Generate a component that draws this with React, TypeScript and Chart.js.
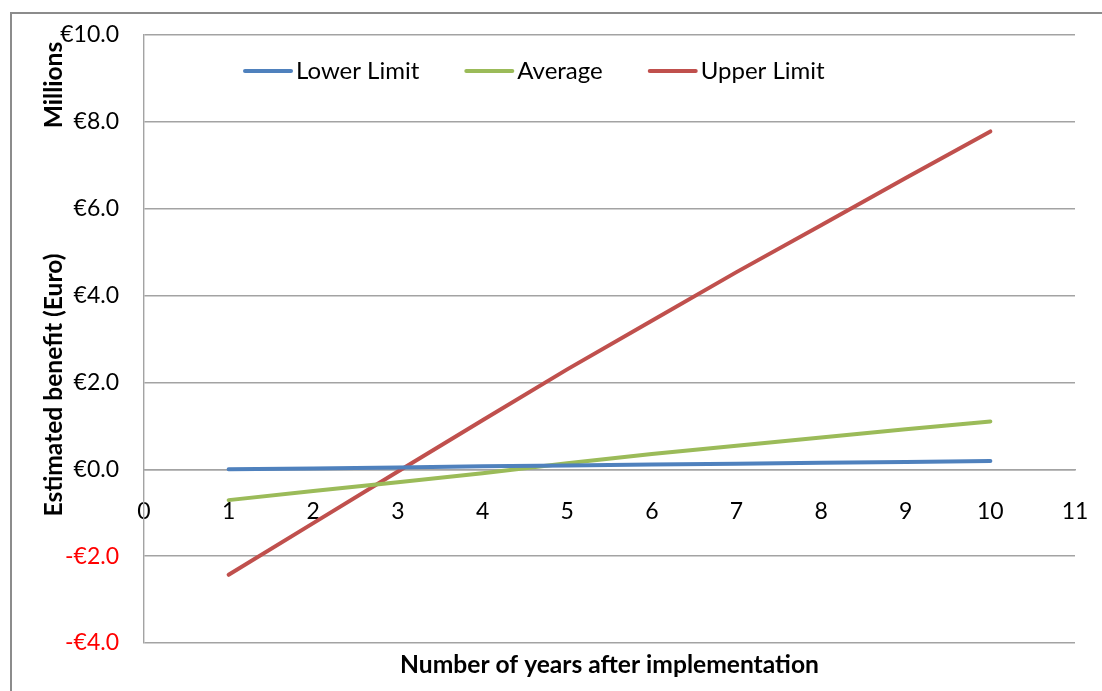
import React, { useEffect, useRef } from "react";
import { Chart, registerables } from "chart.js";

Chart.register(...registerables);

// Years after implementation and estimated benefit in millions of euro
const years = [1, 2, 3, 4, 5, 6, 7, 8, 9, 10];
const lowerLimit = [0.0, 0.02, 0.04, 0.07, 0.09, 0.11, 0.13, 0.15, 0.17, 0.19];
const average = [-0.71, -0.5, -0.3, -0.09, 0.14, 0.35, 0.54, 0.73, 0.92, 1.1];
const upperLimit = [-2.43, -1.24, -0.05, 1.13, 2.3, 3.42, 4.54, 5.62, 6.71, 7.78];

const seriesNames = ["Lower Limit", "Average", "Upper Limit"];
const seriesColors = ["#4F81BD", "#9BBB59", "#C0504D"];

const xTitle = "Number of years after implementation";
const yTitle = "Estimated benefit (Euro)";
const unitLabel = "Millions";

const FONT = "Lato, 'Open Sans', sans-serif";
const GRID = "#A3A3A3";

const toPoints = (vals: number[]) => years.map((x, i) => ({ x, y: vals[i] }));

// Frame, axis titles, unit label and the in-plot legend
const decorations = {
  id: "decorations",
  beforeDraw(chart: any) {
    const { ctx, width, height } = chart;
    ctx.save();
    ctx.fillStyle = "#ffffff";
    ctx.fillRect(0, 0, width, height);
    ctx.strokeStyle = "#8C8C8C";
    ctx.lineWidth = 2;
    ctx.strokeRect(11, 13, width + 40, height + 40);
    ctx.restore();
  },
  afterDraw(chart: any) {
    const { ctx, chartArea } = chart;
    ctx.save();
    ctx.fillStyle = "#000000";
    ctx.textAlign = "center";
    ctx.textBaseline = "middle";

    // x axis title
    ctx.font = `bold 24.6px ${FONT}`;
    ctx.fillText(xTitle, (chartArea.left + chartArea.right) / 2, 665);

    // y axis title and unit label, rotated
    ctx.font = `bold 24.6px ${FONT}`;
    ctx.save();
    ctx.translate(54, 385);
    ctx.rotate(-Math.PI / 2);
    ctx.fillText(yTitle, 0, 0);
    ctx.restore();

    ctx.save();
    ctx.translate(54, 85);
    ctx.rotate(-Math.PI / 2);
    ctx.fillText(unitLabel, 0, 0);
    ctx.restore();

    // legend
    ctx.font = `24px ${FONT}`;
    ctx.textAlign = "left";
    const legendY = 71;
    let x = 245;
    chart.data.datasets.forEach((ds: any) => {
      ctx.strokeStyle = ds.borderColor;
      ctx.lineWidth = 4;
      ctx.lineCap = "round";
      ctx.beginPath();
      ctx.moveTo(x, legendY);
      ctx.lineTo(x + 46, legendY);
      ctx.stroke();
      ctx.fillStyle = "#000000";
      ctx.fillText(ds.label, x + 51, legendY);
      x += 51 + ctx.measureText(ds.label).width + 47;
    });
    ctx.restore();
  },
};

export default function App() {
  const canvasRef = useRef<HTMLCanvasElement>(null);

  useEffect(() => {
    const canvas = canvasRef.current;
    if (!canvas) return;
    const seriesData = [lowerLimit, average, upperLimit];
    const chart = new Chart(canvas, {
      type: "line",
      data: {
        datasets: seriesNames.map((name, i) => ({
          label: name,
          data: toPoints(seriesData[i]),
          borderColor: seriesColors[i],
          backgroundColor: seriesColors[i],
          borderWidth: 4,
          borderCapStyle: "round",
          pointRadius: 0,
          tension: 0,
          fill: false,
        })),
      },
      options: {
        responsive: false,
        animation: false,
        devicePixelRatio: 1,
        layout: { padding: { left: 0, top: 35, right: 27, bottom: 48 } },
        plugins: {
          legend: { display: false },
          tooltip: { enabled: false },
        },
        scales: {
          x: {
            type: "linear",
            position: { y: 0 },
            min: 0,
            max: 11,
            ticks: {
              stepSize: 1,
              padding: 0,
              color: "#000000",
              font: { family: FONT, size: 23 },
              callback: (v: any) => String(v),
            },
            // tick marks are hidden; their length only offsets the labels below the zero line
            grid: { display: false, drawTicks: true, tickLength: 28 },
            border: { display: true, color: GRID, width: 1.4 },
          },
          y: {
            type: "linear",
            min: -4,
            max: 10,
            afterFit: (scale: any) => {
              scale.width = 144;
            },
            ticks: {
              stepSize: 2,
              padding: 0,
              font: { family: FONT, size: 23 },
              color: (ctx: any) => (ctx.tick && ctx.tick.value < 0 ? "#FF0000" : "#000000"),
              callback: (v: any) => {
                const n = Number(v);
                return (n < 0 ? "-€" : "€") + Math.abs(n).toFixed(1);
              },
            },
            grid: {
              color: GRID,
              lineWidth: 1.4,
              drawTicks: true,
              tickLength: 25,
              tickColor: "rgba(0,0,0,0)",
            },
            border: { display: true, color: GRID, width: 1.4 },
          },
        },
      },
      plugins: [decorations],
    } as any);
    return () => chart.destroy();
  }, []);

  return (
    <div style={{ position: "absolute", left: 0, top: 0, width: 1102, height: 691, background: "#fff" }}>
      <canvas ref={canvasRef} width={1102} height={691} style={{ display: "block" }} />
    </div>
  );
}
